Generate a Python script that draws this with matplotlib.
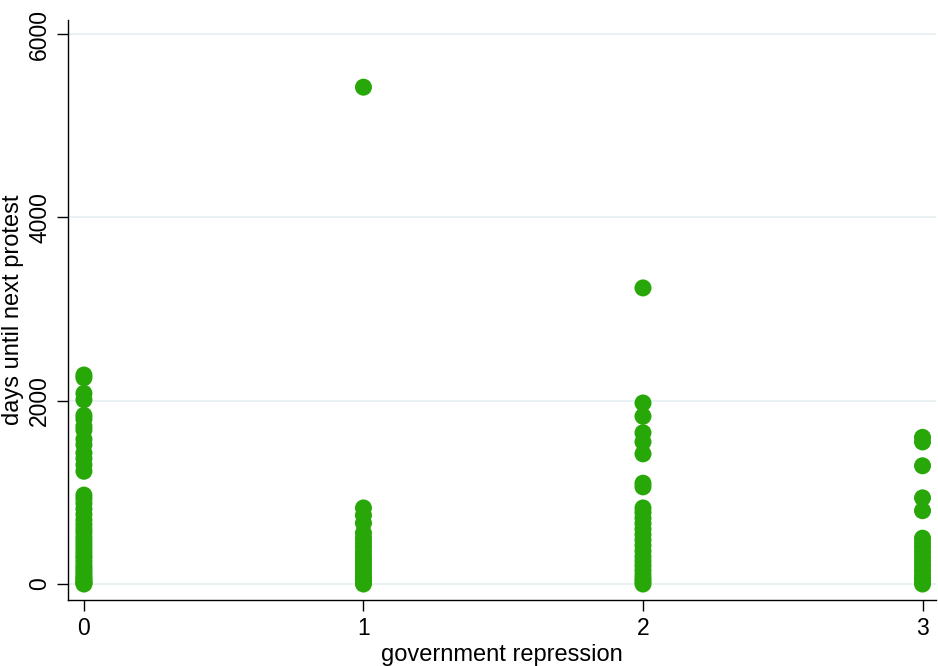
import numpy as np
import matplotlib
matplotlib.use("Agg")
from matplotlib import pyplot as plt

plt.rcParams['font.family'] = ['Liberation Sans', 'DejaVu Sans']

# days until next protest, by level of government repression
dias_0 = [2280, 2250, 2080, 2010, 1840, 1800, 1720, 1680, 1580, 1520, 1430, 1370,
          1300, 1230, 970, 930, 880, 820, 760, 700, 650, 600, 560, 510, 470, 430,
          390, 350, 310, 280, 240, 200, 170, 140, 110, 80, 60, 40, 20, 10, 0]
dias_1 = [5420, 830, 750, 665, 556, 500, 450, 400, 350, 300, 260, 220, 180, 140,
          100, 70, 40, 20, 0]
dias_2 = [3230, 1975, 1830, 1650, 1550, 1420, 1100, 1060, 830, 780, 720, 660, 600,
          540, 480, 420, 360, 300, 250, 200, 150, 100, 60, 30, 0]
dias_3 = [1600, 1550, 1290, 940, 800, 500, 450, 400, 350, 300, 250, 200, 150, 100,
          60, 30, 0]

repressao = [0, 1, 2, 3]
grupos = [dias_0, dias_1, dias_2, dias_3]

fig = plt.figure(figsize=(9.38, 6.66), dpi=100)
ax = fig.add_axes([0.0725, 0.099, 0.925, 0.871])

for r, dias in zip(repressao, grupos):
    ax.scatter([r] * len(dias), dias, s=150, color='#28a808', edgecolors='none', zorder=3)

ax.set_xlim(-0.057, 3.047)
ax.set_ylim(-175, 6153)
ax.set_xticks(repressao)
ax.set_yticks([0, 2000, 4000, 6000])
ax.set_yticklabels(['0', '2000', '4000', '6000'], rotation=90, va='center')
ax.yaxis.grid(True, color='#e6eff2', linewidth=1.2, zorder=0)
ax.set_axisbelow(True)

for lado in ['top', 'right']:
    ax.spines[lado].set_visible(False)
ax.spines['left'].set_linewidth(1.0)
ax.spines['bottom'].set_linewidth(1.0)
ax.tick_params(direction='out', length=8, width=1.0, labelsize=16.5, pad=4)

ax.set_xlabel('government repression', fontsize=17, labelpad=3)
ax.set_ylabel('days until next protest', fontsize=17, labelpad=3)

fig.savefig('out.png', dpi=100)
